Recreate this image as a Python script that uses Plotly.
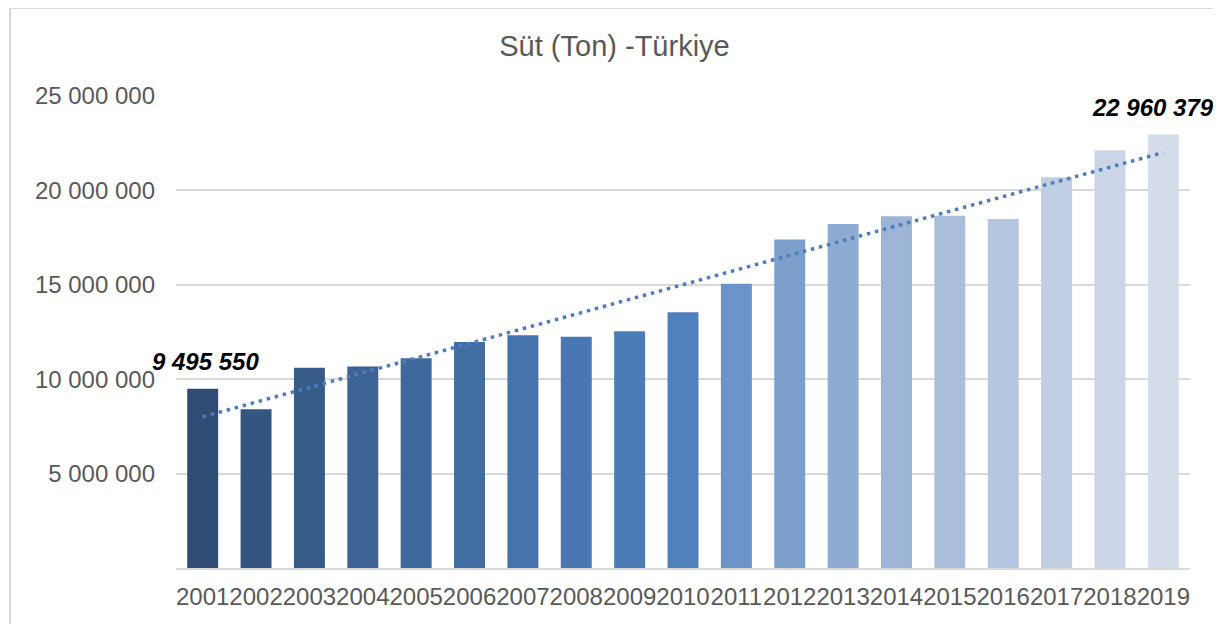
import numpy as np
import plotly.graph_objects as go

years = [str(y) for y in range(2001, 2020)]
milk_tons = [9495550, 8408568, 10611045, 10679082, 11107897, 11964238, 12321911,
             12243040, 12542194, 13543674, 15056211, 17401262, 18223712, 18630859,
             18654682, 18489161, 20699894, 22120755, 22960379]
y_ticks = [5000000, 10000000, 15000000, 20000000, 25000000]
y_tick_text = ["5 000 000", "10 000 000", "15 000 000", "20 000 000", "25 000 000"]
labelled = {"2001": "9 495 550", "2019": "22 960 379"}

bar_colors = ["#2F4D74", "#34557F", "#385C89", "#3C6393", "#3F699C", "#426EA4",
              "#4573AC", "#4877B3", "#4B7CB8", "#4F81BD", "#6B93C7", "#7D9FCC",
              "#8EABD2", "#9CB4D6", "#A9BEDB", "#B5C6E0", "#C0CEE4", "#CAD5E7",
              "#D5DCE9"]

# linear trendline (least squares, as in the spreadsheet trendline)
xi = np.arange(len(milk_tons))
slope, intercept = np.polyfit(xi, milk_tons, 1)
trend = [float(slope * i + intercept) for i in (xi[0], xi[-1])]

W, H = 1213, 616  # page body has an 8px default margin

fig = go.Figure()
fig.add_trace(go.Bar(x=years, y=milk_tons, marker=dict(color=bar_colors, line_width=0),
                     showlegend=False, hoverinfo="x+y"))
fig.add_trace(go.Scatter(x=[years[0], years[-1]], y=trend, mode="lines",
                         line=dict(color="#4A7EC1", width=3.5, dash="3.5px,4.8px"),
                         showlegend=False, hoverinfo="skip"))

for yr, txt in labelled.items():
    idx = years.index(yr)
    v = milk_tons[idx]
    fig.add_annotation(x=idx, y=v, xref="x", yref="y", text=f"<b><i>{txt}</i></b>",
                       showarrow=False, xanchor="center",
                       yanchor="bottom", yshift=12, xshift=(-10 if yr == "2019" else 3),
                       font=dict(family="Liberation Sans, Arial", size=24, color="#000000"))

fig.update_layout(
    width=W, height=H,
    margin=dict(l=168, r=31, t=88, b=56),
    paper_bgcolor="white", plot_bgcolor="white",
    title=dict(text="Süt (Ton) -Türkiye", x=0.5, xref="container", xanchor="center",
               y=1 - 38 / H, yref="container", yanchor="middle",
               font=dict(family="Liberation Sans, Arial", size=29, color="#595959")),
    bargap=0.42,
    font=dict(family="Liberation Sans, Arial", color="#595959"),
    shapes=[dict(type="rect", xref="paper", yref="paper",
                 x0=(10 - 176) / 1014, x1=(1218 - 176) / 1014,
                 y0=(568 - 640) / 472, y1=(568 - 8) / 472,
                 line=dict(color="#D9D9D9", width=2), fillcolor="rgba(0,0,0,0)",
                 layer="below")],
)
fig.update_xaxes(type="category", categoryorder="array", categoryarray=years,
                 range=[-0.5, len(years) - 0.5],
                 showgrid=False, showline=True, linecolor="#D9D9D9",
                 linewidth=1.5, ticks="", ticklabelstandoff=6,
                 tickfont=dict(size=24, color="#595959"), tickangle=0)
fig.update_yaxes(range=[0, 25000000], tickvals=y_ticks, ticktext=y_tick_text,
                 showgrid=True, gridcolor="#D9D9D9", gridwidth=1.5, zeroline=False,
                 showline=False, ticks="", ticklabelstandoff=20,
                 tickfont=dict(size=24, color="#595959"))

fig.write_html("out.html")
